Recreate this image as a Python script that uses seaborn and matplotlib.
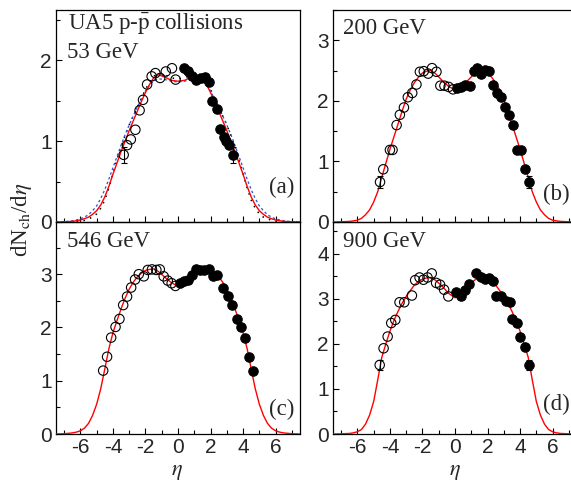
import numpy as np
import pandas as pd
import seaborn as sns
import matplotlib
matplotlib.use("Agg")
import matplotlib.pyplot as plt
from matplotlib.ticker import MultipleLocator

# ---------------- data ----------------
# panel (a) 53 GeV
a_open_eta = [-3.34, -3.13, -2.9, -2.62, -2.36, -2.15, -1.9, -1.62, -1.39, -1.1, -0.75, -0.37, -0.15]
a_open_y = [0.83, 0.95, 1.02, 1.14, 1.38, 1.51, 1.7, 1.8, 1.84, 1.78, 1.86, 1.9, 1.76]
a_fill_eta = [0.38, 0.6, 0.86, 1.12, 1.4, 1.67, 1.9, 2.09, 2.39, 2.6, 2.8, 2.98, 3.15, 3.4]
a_fill_y = [1.9, 1.86, 1.8, 1.76, 1.78, 1.79, 1.73, 1.49, 1.4, 1.15, 1.05, 1.0, 0.95, 0.83]

# shared eta grid on which the model curves were read
curve_eta = [-7.5, -7, -6.5, -6.25, -6, -5.75, -5.5, -5.25, -5, -4.75, -4.5, -4.25, -4, -3.75, -3.5,
             -3.25, -3, -2.75, -2.5, -2.25, -2, -1.75, -1.5, -1.2, -0.8, -0.4, 0,
             0.4, 0.8, 1.2, 1.5, 1.75, 2, 2.25, 2.5, 2.75, 3, 3.25, 3.5, 3.75, 4, 4.25, 4.5,
             4.75, 5, 5.25, 5.5, 5.75, 6, 6.25, 6.5, 7, 7.5]

a_red = [0, 0.002, 0.008, 0.015, 0.025, 0.04, 0.06, 0.095, 0.14, 0.21, 0.31, 0.44, 0.59, 0.73, 0.87,
         1.0, 1.13, 1.25, 1.37, 1.49, 1.6, 1.7, 1.78, 1.82, 1.79, 1.75, 1.74,
         1.75, 1.79, 1.82, 1.78, 1.7, 1.6, 1.49, 1.37, 1.25, 1.13, 1.0, 0.87, 0.73, 0.59, 0.44, 0.31,
         0.21, 0.14, 0.095, 0.06, 0.04, 0.025, 0.015, 0.008, 0.002, 0]
a_blue = [0, 0.004, 0.015, 0.025, 0.04, 0.06, 0.09, 0.14, 0.2, 0.29, 0.4, 0.53, 0.67, 0.81, 0.95,
          1.08, 1.2, 1.31, 1.42, 1.52, 1.62, 1.69, 1.74, 1.77, 1.76, 1.74, 1.73,
          1.74, 1.76, 1.77, 1.74, 1.69, 1.62, 1.52, 1.42, 1.31, 1.2, 1.08, 0.95, 0.81, 0.67, 0.53, 0.4,
          0.29, 0.2, 0.14, 0.09, 0.06, 0.04, 0.025, 0.015, 0.004, 0]
a_black = [0, 0, 0.002, 0.005, 0.01, 0.02, 0.04, 0.06, 0.1, 0.17, 0.27, 0.42, 0.6, 0.77, 0.93,
           1.07, 1.2, 1.31, 1.42, 1.53, 1.64, 1.73, 1.8, 1.84, 1.82, 1.78, 1.77,
           1.78, 1.82, 1.84, 1.8, 1.73, 1.64, 1.53, 1.42, 1.31, 1.2, 1.07, 0.93, 0.77, 0.6, 0.42, 0.27,
           0.17, 0.1, 0.06, 0.04, 0.02, 0.01, 0.005, 0.002, 0, 0]

# panel (b) 200 GeV
b_open_eta = [-4.61, -4.41, -4.0, -3.84, -3.59, -3.39, -3.14, -2.9, -2.63, -2.37, -2.16, -1.92, -1.65,
              -1.41, -1.14, -0.9, -0.65, -0.39, -0.12]
b_open_y = [0.66, 0.87, 1.19, 1.19, 1.6, 1.77, 1.89, 2.06, 2.13, 2.27, 2.48, 2.49, 2.45, 2.54, 2.48,
            2.25, 2.25, 2.23, 2.19]
b_fill_eta = [0.12, 0.37, 0.63, 0.9, 1.14, 1.35, 1.59, 1.86, 2.12, 2.33, 2.57, 2.82, 3.08, 3.35, 3.55,
              3.84, 4.04, 4.31, 4.57]
b_fill_y = [2.21, 2.23, 2.27, 2.25, 2.49, 2.54, 2.45, 2.51, 2.49, 2.27, 2.13, 2.06, 1.9, 1.77, 1.6,
            1.19, 1.19, 0.88, 0.66]
b_red = [0, 0.003, 0.01, 0.018, 0.03, 0.06, 0.12, 0.2, 0.33, 0.5, 0.74, 0.97, 1.2, 1.41, 1.62,
         1.83, 2.03, 2.18, 2.3, 2.39, 2.46, 2.49, 2.5, 2.45, 2.34, 2.24, 2.18,
         2.24, 2.34, 2.45, 2.5, 2.49, 2.46, 2.39, 2.3, 2.18, 2.03, 1.83, 1.62, 1.41, 1.2, 0.97, 0.74,
         0.5, 0.33, 0.2, 0.12, 0.06, 0.03, 0.018, 0.01, 0.003, 0]

# panel (c) 546 GeV
c_open_eta = [-4.6, -4.36, -4.11, -3.84, -3.6, -3.37, -3.13, -2.88, -2.64, -2.41, -2.1, -1.86, -1.6,
              -1.33, -1.12, -0.88, -0.63, -0.39, -0.16]
c_open_y = [1.19, 1.45, 1.81, 2.01, 2.16, 2.42, 2.58, 2.75, 2.9, 3.0, 2.96, 3.08, 3.09, 3.08, 3.09,
            2.96, 2.88, 2.83, 2.78]
c_fill_eta = [0.1, 0.35, 0.59, 0.86, 1.12, 1.37, 1.62, 1.88, 2.15, 2.39, 2.76, 3.05, 3.31, 3.62, 3.87,
              4.09, 4.36, 4.6]
c_fill_y = [2.83, 2.88, 2.9, 2.98, 3.09, 3.08, 3.08, 3.09, 2.96, 2.98, 2.75, 2.59, 2.42, 2.15, 2.01,
            1.81, 1.45, 1.19]
c_red = [0, 0.005, 0.02, 0.035, 0.06, 0.11, 0.2, 0.35, 0.56, 0.85, 1.22, 1.6, 1.9, 2.13, 2.35,
         2.55, 2.72, 2.85, 2.95, 3.02, 3.07, 3.09, 3.1, 3.05, 2.94, 2.84, 2.77,
         2.84, 2.94, 3.05, 3.1, 3.09, 3.07, 3.02, 2.95, 2.85, 2.72, 2.55, 2.35, 2.13, 1.9, 1.6, 1.22,
         0.85, 0.56, 0.35, 0.2, 0.11, 0.06, 0.035, 0.02, 0.005, 0]

# panel (d) 900 GeV
d_open_eta = [-4.63, -4.39, -4.14, -3.92, -3.67, -3.41, -3.12, -2.65, -2.45, -2.18, -1.94, -1.69, -1.43,
              -1.16, -0.92, -0.67, -0.41]
d_open_y = [1.53, 1.9, 2.16, 2.46, 2.53, 2.92, 2.92, 3.07, 3.41, 3.47, 3.42, 3.47, 3.56, 3.35, 3.31,
            3.2, 3.05]
d_fill_eta = [0.06, 0.35, 0.61, 0.88, 1.29, 1.57, 1.84, 2.1, 2.35, 2.55, 2.8, 3.16, 3.37, 3.53, 3.82,
              4.02, 4.29, 4.55]
d_fill_y = [3.14, 3.05, 3.2, 3.33, 3.56, 3.48, 3.44, 3.46, 3.39, 3.07, 3.07, 2.94, 2.92, 2.55, 2.47,
            2.16, 1.93, 1.53]
d_red = [0, 0.004, 0.012, 0.025, 0.05, 0.1, 0.22, 0.42, 0.72, 1.2, 1.7, 2.0, 2.28, 2.52, 2.72,
         2.9, 3.05, 3.18, 3.3, 3.38, 3.43, 3.46, 3.47, 3.41, 3.28, 3.12, 3.02,
         3.12, 3.28, 3.41, 3.47, 3.46, 3.43, 3.38, 3.3, 3.18, 3.05, 2.9, 2.72, 2.52, 2.28, 2.0, 1.7,
         1.2, 0.72, 0.42, 0.22, 0.1, 0.05, 0.025, 0.012, 0.004, 0]

panel_titles = ["53 GeV", "200 GeV", "546 GeV", "900 GeV"]
panel_tags = ["(a)", "(b)", "(c)", "(d)"]
ylims = [2.62, 3.5, 3.98, 4.7]
yticks = [[0, 1, 2], [0, 1, 2, 3], [0, 1, 2, 3], [0, 1, 2, 3, 4]]
xticks = [-6, -4, -2, 0, 2, 4, 6]

# ---------------- style ----------------
sns.set_style("ticks")
plt.rcParams["font.family"] = ["Liberation Sans", "DejaVu Sans"]
plt.rcParams["mathtext.fontset"] = "stix"
plt.rcParams["axes.unicode_minus"] = False
SERIF = ["Liberation Serif", "DejaVu Serif"]

W, H = 571, 482
fig = plt.figure(figsize=(W / 100, H / 100), dpi=100)

def frac_rect(left, top, right, bottom):
    return [left / W, 1 - bottom / H, (right - left) / W, (bottom - top) / H]

axA = fig.add_axes(frac_rect(56, 10, 300, 222))
axB = fig.add_axes(frac_rect(333, 10, 577, 222))
axC = fig.add_axes(frac_rect(56, 222, 300, 434))
axD = fig.add_axes(frac_rect(333, 222, 577, 434))
axes = [axA, axB, axC, axD]

open_sets = [(a_open_eta, a_open_y), (b_open_eta, b_open_y), (c_open_eta, c_open_y), (d_open_eta, d_open_y)]
fill_sets = [(a_fill_eta, a_fill_y), (b_fill_eta, b_fill_y), (c_fill_eta, c_fill_y), (d_fill_eta, d_fill_y)]
red_sets = [a_red, b_red, c_red, d_red]
err_idx = [True, True, False, True]

for i, ax in enumerate(axes):
    if i == 0:
        sns.lineplot(x=curve_eta, y=a_black, ax=ax, color="black", lw=1.1,
                     linestyle=(0, (1, 3.5)), estimator=None, sort=False)
        sns.lineplot(x=curve_eta, y=a_blue, ax=ax, color="#3050d0", lw=0.9,
                     linestyle=(0, (2, 2)), estimator=None, sort=False)
    sns.lineplot(x=curve_eta, y=red_sets[i], ax=ax, color="red", lw=1.0, estimator=None,
                 sort=False, zorder=3)
    oe, oy = open_sets[i]
    fe, fy = fill_sets[i]
    sns.scatterplot(x=oe, y=oy, ax=ax, marker="o", s=46, facecolor="none",
                    edgecolor="black", linewidth=0.8, zorder=4)
    sns.scatterplot(x=fe, y=fy, ax=ax, marker="o", s=46, color="black",
                    edgecolor="black", linewidth=0.8, zorder=4)
    if err_idx[i]:
        ax.errorbar([oe[0], fe[-1]], [oy[0], fy[-1]], yerr=0.1 if i != 3 else 0.12,
                    fmt="none", ecolor="black", elinewidth=0.8, capsize=2.5, capthick=0.8, zorder=4)

    ax.set_xlim(-7.5, 7.5)
    ax.set_ylim(0, ylims[i])
    ax.set_xticks(xticks)
    ax.xaxis.set_minor_locator(MultipleLocator(1))
    ax.set_yticks(yticks[i])
    ax.yaxis.set_minor_locator(MultipleLocator(0.5))
    ax.tick_params(which="both", direction="in", top=False, right=False,
                   length=4, width=0.8, labelsize=15, color="black", pad=3)
    ax.tick_params(which="minor", length=3)
    if i < 2:
        ax.tick_params(axis="x", labelbottom=False)
    for sp in ax.spines.values():
        sp.set_visible(True)
        sp.set_linewidth(0.9)
        sp.set_color("black")
    ax.set_xlabel("")
    ax.set_ylabel("")
    ax.patch.set_alpha(0)

    ax.text(0.975 if i % 2 == 0 else 0.971, [0.137, 0.104, 0.09, 0.113][i], panel_tags[i],
            transform=ax.transAxes, ha="right", va="baseline", family=SERIF, fontsize=16.5)

axA.text(0.049, 0.906, r"UA5 p-$\bar{\mathrm{p}}$ collisions", transform=axA.transAxes,
         ha="left", va="baseline", family=SERIF, fontsize=16.5)
axA.text(0.044, 0.774, panel_titles[0], transform=axA.transAxes, ha="left", va="baseline",
         family=SERIF, fontsize=16.5)
axB.text(0.042, 0.885, panel_titles[1], transform=axB.transAxes, ha="left", va="baseline",
         family=SERIF, fontsize=16.5)
axC.text(0.044, 0.884, panel_titles[2], transform=axC.transAxes, ha="left", va="baseline",
         family=SERIF, fontsize=16.5)
axD.text(0.042, 0.881, panel_titles[3], transform=axD.transAxes, ha="left", va="baseline",
         family=SERIF, fontsize=16.5)

fig.text(22 / W, 1 - 220 / H, r"dN$_{\rm ch}$/d$\eta$", rotation=90, ha="center", va="center",
         family=SERIF, fontsize=16.5)
fig.text(177 / W, 1 - 471 / H, r"$\eta$", ha="center", va="center", fontsize=16)
fig.text(455 / W, 1 - 471 / H, r"$\eta$", ha="center", va="center", fontsize=16)

fig.savefig("out.png", dpi=100)
